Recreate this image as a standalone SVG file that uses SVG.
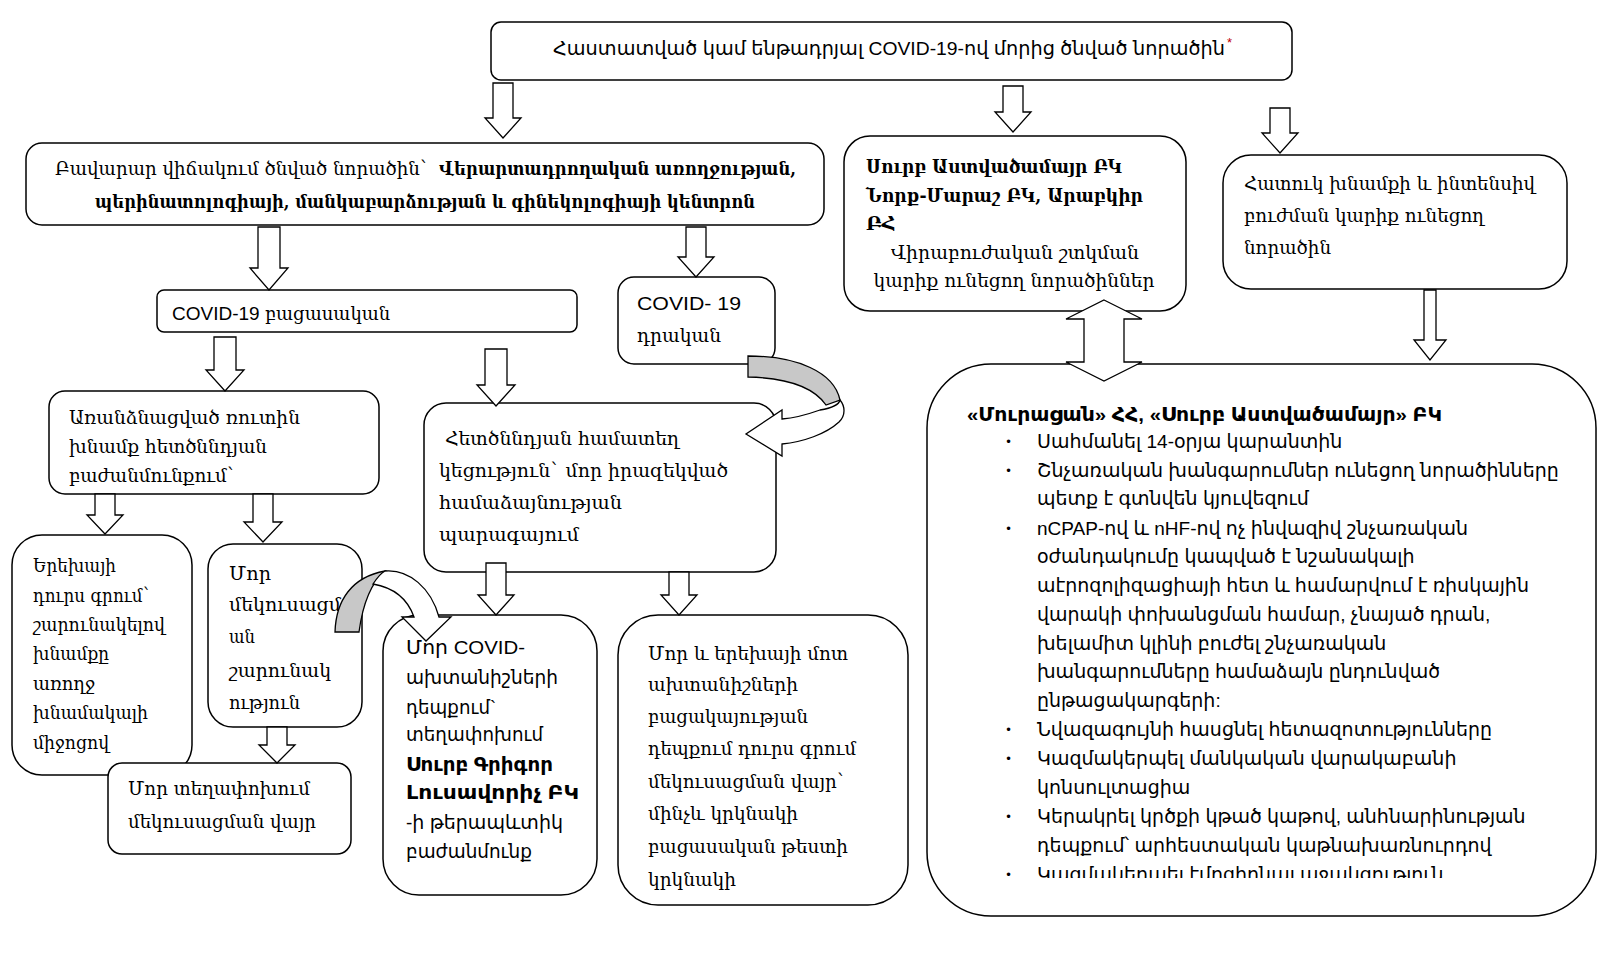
<svg xmlns="http://www.w3.org/2000/svg" width="1621" height="973" viewBox="0 0 1621 973">
<style>
.box{fill:#fff;stroke:#000;stroke-width:1.5}
.arr{fill:#fff;stroke:#000;stroke-width:1.3}
.grey{fill:#c8c8c8;stroke:#000;stroke-width:1.3}
.s{font-family:"Liberation Sans","DejaVu Sans",sans-serif;font-size:19px;fill:#000}
.r{font-family:"DejaVu Serif",serif;font-size:19px;fill:#000}
.b{font-weight:bold}
.bul{font-family:"DejaVu Sans",sans-serif;font-size:12px}
</style>
<defs>
<clipPath id="cutLast"><rect x="1030" y="860" width="560" height="18"/></clipPath>
</defs>
<rect width="1621" height="973" fill="#fff"/>

<g id="n-top">
<rect class="box" x="491" y="22" width="801" height="58" rx="10"/>
<text class="s" x="553" y="55" textLength="672" lengthAdjust="spacingAndGlyphs">Հաստատված կամ ենթադրյալ COVID-19-ով  մորից ծնված նորածին</text>
<text class="s" x="1227" y="47" style="font-size:13px;fill:#c00000">*</text>
</g>

<g id="n-center">
<rect class="box" x="26" y="143" width="798" height="82" rx="16"/>
<text class="r" x="55" y="175" textLength="374" lengthAdjust="spacingAndGlyphs">Բավարար վիճակում ծնված նորածին`</text>
<text class="r b" x="439" y="175" textLength="357" lengthAdjust="spacingAndGlyphs">Վերարտադրողական առողջության,</text>
<text class="r b" x="95" y="208" textLength="660" lengthAdjust="spacingAndGlyphs">պերինատոլոգիայի, մանկաբարձության և գինեկոլոգիայի կենտրոն</text>
</g>

<g id="n-surb">
<rect class="box" x="844" y="136" width="342" height="175" rx="26"/>
<text class="r b" x="866" y="173" textLength="256" lengthAdjust="spacingAndGlyphs">Սուրբ Աստվածամայր ԲԿ</text>
<text class="r b" x="866" y="202" textLength="277" lengthAdjust="spacingAndGlyphs">Նորք-Մարաշ ԲԿ, Արաբկիր</text>
<text class="r b" x="866" y="230">ԲՀ</text>
<text class="r" x="1015" y="259" text-anchor="middle" textLength="248" lengthAdjust="spacingAndGlyphs">Վիրաբուժական շտկման</text>
<text class="r" x="1014" y="287" text-anchor="middle" textLength="281" lengthAdjust="spacingAndGlyphs">կարիք ունեցող նորածիններ</text>
</g>

<g id="n-hatuk">
<rect class="box" x="1223" y="155" width="344" height="134" rx="28"/>
<text class="r" x="1244" y="190" textLength="291" lengthAdjust="spacingAndGlyphs">Հատուկ խնամքի և ինտենսիվ</text>
<text class="r" x="1244" y="222" textLength="240" lengthAdjust="spacingAndGlyphs">բուժման կարիք ունեցող</text>
<text class="r" x="1244" y="254" textLength="87" lengthAdjust="spacingAndGlyphs">նորածին</text>
</g>

<g id="n-neg">
<rect class="box" x="157" y="290" width="420" height="42" rx="7"/>
<text class="s" x="172" y="320">COVID-19 <tspan style="font-family:'DejaVu Serif',serif;font-size:18px">բացասական</tspan></text>
</g>

<g id="n-pos">
<rect class="box" x="618" y="277" width="157" height="87" rx="16"/>
<text class="s" x="637" y="310" textLength="104" lengthAdjust="spacingAndGlyphs">COVID- 19</text>
<text class="r" x="637" y="342" textLength="84" lengthAdjust="spacingAndGlyphs">դրական</text>
</g>

<g id="n-routine">
<rect class="box" x="49" y="391" width="330" height="103" rx="16"/>
<text class="r" x="69" y="424" textLength="231" lengthAdjust="spacingAndGlyphs">Առանձնացված ռուտին</text>
<text class="r" x="69" y="453" textLength="198" lengthAdjust="spacingAndGlyphs">խնամք հետծննդյան</text>
<text class="r" x="69" y="482" textLength="167" lengthAdjust="spacingAndGlyphs">բաժանմունքում`</text>
</g>

<g id="n-rooming">
<rect class="box" x="424" y="403" width="352" height="169" rx="22"/>
<text class="r" x="445" y="445" textLength="234" lengthAdjust="spacingAndGlyphs">Հետծննդյան համատեղ</text>
<text class="r" x="439" y="477" textLength="289" lengthAdjust="spacingAndGlyphs">կեցություն` մոր իրազեկված</text>
<text class="r" x="439" y="509" textLength="183" lengthAdjust="spacingAndGlyphs">համաձայնության</text>
<text class="r" x="439" y="541" textLength="140" lengthAdjust="spacingAndGlyphs">պարագայում</text>
</g>

<g id="n-child">
<rect class="box" x="12" y="535" width="180" height="240" rx="30"/>
<text class="r" x="33" y="572" textLength="83" lengthAdjust="spacingAndGlyphs">Երեխայի</text>
<text class="r" x="33" y="602" textLength="118" lengthAdjust="spacingAndGlyphs">դուրս գրում`</text>
<text class="r" x="33" y="631" textLength="132" lengthAdjust="spacingAndGlyphs">շարունակելով</text>
<text class="r" x="33" y="660" textLength="76" lengthAdjust="spacingAndGlyphs">խնամքը</text>
<text class="r" x="33" y="690" textLength="62" lengthAdjust="spacingAndGlyphs">առողջ</text>
<text class="r" x="33" y="719" textLength="115" lengthAdjust="spacingAndGlyphs">խնամակալի</text>
<text class="r" x="33" y="749" textLength="76" lengthAdjust="spacingAndGlyphs">միջոցով</text>
</g>

<g id="n-mothersep">
<rect class="box" x="208" y="544" width="154" height="183" rx="25"/>
<text class="r" x="229" y="580" textLength="42" lengthAdjust="spacingAndGlyphs">Մոր</text>
<text class="r" x="229" y="611" textLength="112" lengthAdjust="spacingAndGlyphs">մեկուսացմ</text>
<text class="r" x="229" y="643" textLength="26" lengthAdjust="spacingAndGlyphs">ան</text>
<text class="r" x="229" y="677" textLength="102" lengthAdjust="spacingAndGlyphs">շարունակ</text>
<text class="r" x="229" y="709" textLength="71" lengthAdjust="spacingAndGlyphs">ություն</text>
</g>

<g id="n-mothermove">
<rect class="box" x="108" y="763" width="243" height="91" rx="14"/>
<text class="r" x="128" y="795" textLength="182" lengthAdjust="spacingAndGlyphs">Մոր տեղափոխում</text>
<text class="r" x="128" y="828" textLength="188" lengthAdjust="spacingAndGlyphs">մեկուսացման վայր</text>
</g>

<g id="n-symptoms">
<rect class="box" x="383" y="615" width="214" height="280" rx="36"/>
<text class="s" x="406" y="654" textLength="119" lengthAdjust="spacingAndGlyphs">Մոր COVID-</text>
<text class="s" x="406" y="684" textLength="152" lengthAdjust="spacingAndGlyphs">ախտանիշների</text>
<text class="s" x="406" y="714" textLength="90" lengthAdjust="spacingAndGlyphs">դեպքում`</text>
<text class="s" x="406" y="741" textLength="137" lengthAdjust="spacingAndGlyphs">տեղափոխում</text>
<text class="s b" x="406" y="771" textLength="147" lengthAdjust="spacingAndGlyphs">Սուրբ Գրիգոր</text>
<text class="s b" x="406" y="799" textLength="173" lengthAdjust="spacingAndGlyphs">Լուսավորիչ ԲԿ</text>
<text class="s" x="406" y="829" textLength="157" lengthAdjust="spacingAndGlyphs">-ի թերապևտիկ</text>
<text class="s" x="406" y="858" textLength="126" lengthAdjust="spacingAndGlyphs">բաժանմունք</text>
</g>

<g id="n-nosymptoms">
<rect class="box" x="618" y="615" width="290" height="290" rx="40"/>
<text class="r" x="648" y="660" textLength="200" lengthAdjust="spacingAndGlyphs">Մոր և երեխայի մոտ</text>
<text class="r" x="648" y="691" textLength="150" lengthAdjust="spacingAndGlyphs">ախտանիշների</text>
<text class="r" x="648" y="723" textLength="160" lengthAdjust="spacingAndGlyphs">բացակայության</text>
<text class="r" x="648" y="755" textLength="208" lengthAdjust="spacingAndGlyphs">դեպքում դուրս գրում</text>
<text class="r" x="648" y="788" textLength="198" lengthAdjust="spacingAndGlyphs">մեկուսացման վայր`</text>
<text class="r" x="648" y="820" textLength="150" lengthAdjust="spacingAndGlyphs">մինչև կրկնակի</text>
<text class="r" x="648" y="853" textLength="200" lengthAdjust="spacingAndGlyphs">բացասական թեստի</text>
<text class="r" x="648" y="886" textLength="88" lengthAdjust="spacingAndGlyphs">կրկնակի</text>
</g>

<g id="n-big">
<rect class="box" x="927" y="364" width="669" height="552" rx="64"/>
<text class="s b" x="967" y="421" textLength="475" lengthAdjust="spacingAndGlyphs">«Մուրացան» ՀՀ, «Սուրբ Աստվածամայր» ԲԿ</text>
<g class="bul">
<text x="1005" y="446">•</text>
<text x="1005" y="475">•</text>
<text x="1005" y="533">•</text>
<text x="1005" y="734">•</text>
<text x="1005" y="763">•</text>
<text x="1005" y="821">•</text>
<text x="1005" y="879">•</text>
</g>
<g class="s">
<text x="1037" y="448">Սահմանել 14-օրյա կարանտին</text>
<text x="1037" y="477">Շնչառական խանգարումներ ունեցող նորածինները</text>
<text x="1037" y="505">պետք է գտնվեն կյուվեզում</text>
<text x="1037" y="535">nCPAP-ով և nHF-ով ոչ ինվազիվ շնչառական</text>
<text x="1037" y="563">օժանդակումը կապված է նշանակալի</text>
<text x="1037" y="592">աէրոզոլիզացիայի հետ և համարվում է ռիսկային</text>
<text x="1037" y="621">վարակի փոխանցման համար, չնայած դրան,</text>
<text x="1037" y="650">խելամիտ կլինի բուժել շնչառական</text>
<text x="1037" y="678">խանգարումները համաձայն ընդունված</text>
<text x="1037" y="707">ընթացակարգերի:</text>
<text x="1037" y="736">Նվազագույնի հասցնել հետազոտությունները</text>
<text x="1037" y="765">Կազմակերպել մանկական վարակաբանի</text>
<text x="1037" y="794">կոնսուլտացիա</text>
<text x="1037" y="823">Կերակրել կրծքի կթած կաթով, անհնարինության</text>
<text x="1037" y="852">դեպքում՝ արհեստական կաթնախառնուրդով</text>
<text x="1037" y="881" clip-path="url(#cutLast)">Կազմակերպել էմոցիոնալ աջակցություն</text>
</g>
</g>

<g id="connectors">
<path class="arr" d="M493,83 H513 V118 H521 L503,138 L485,118 H493 Z"/>
<path class="arr" d="M1003,86 H1023 V112 H1031 L1013,132 L995,112 H1003 Z"/>
<path class="arr" d="M1270,108 H1290 V133 H1298 L1280,153 L1262,133 H1270 Z"/>
<path class="arr" d="M258,227 H280 V268 H288 L269,290 L250,268 H258 Z"/>
<path class="arr" d="M686,227 H706 V257 H714 L696,277 L678,257 H686 Z"/>
<path class="arr" d="M214,337 H236 V370 H244 L225,391 L206,370 H214 Z"/>
<path class="arr" d="M485,349 H507 V385 H515 L496,406 L477,385 H485 Z"/>
<path class="arr" d="M95,494 H115 V515 H123 L105,534 L87,515 H95 Z"/>
<path class="arr" d="M253,494 H273 V522 H282 L263,542 L244,522 H253 Z"/>
<path class="arr" d="M267,727 H287 V745 H295 L277,763 L259,745 H267 Z"/>
<path class="arr" d="M486,563 H506 V595 H514 L496,615 L478,595 H486 Z"/>
<path class="arr" d="M669,572 H689 V595 H697 L679,615 L661,595 H669 Z"/>
<path class="arr" d="M1424,290 H1436 V340 H1446 L1430,360 L1414,340 H1424 Z"/>
<path class="arr" d="M1104,300 L1142,319 H1124 V362 H1142 L1104,381 L1066,362 H1084 V319 H1066 Z"/>
<path class="grey" d="M748,356 C797,356 834,372 840,400 L826,405 C815,389 790,378 748,377 Z"/>
<path class="arr" d="M840,400 C839,405 832,408 820,410 C806,415 795,418 782,419 L782,410 L746,434 L782,456 L782,444 C803,442 826,434 839,422 C846,415 845,406 840,400 Z"/>
<path class="grey" d="M335,632 C336,600 352,577 385,571 C372,582 363,602 359,632 Z"/>
<path class="arr" d="M385,571 C409,569 431,588 439,617 L451,617 L426,641 L402,617 L414,617 C408,600 396,588 373,584 C377,578 381,573 385,571 Z"/>
</g>
</svg>
